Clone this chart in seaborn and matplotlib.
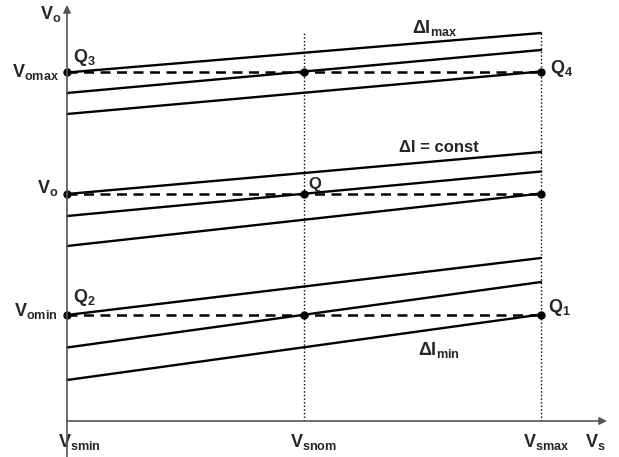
import numpy as np
import pandas as pd
import matplotlib
matplotlib.use("Agg")
import matplotlib.pyplot as plt
import seaborn as sns

# Supply-voltage operating points (Vs_min, Vs_nom, Vs_max)
vs_points = [0.0, 1.0, 2.0]
vs_labels = ["V_{smin}", "V_{snom}", "V_{smax}"]

# Output-voltage levels (arbitrary units)
vo_levels = {"Vomax": 349.0, "Vo": 227.5, "Vomin": 106.0}

# Output characteristics: value at Vs_min and at Vs_max for each curve
curve_names = ["max_1", "max_2", "max_3",
               "const_1", "const_2", "const_3",
               "min_1", "min_2", "min_3"]
vo_at_vsmin = [348.5, 328.0, 307.0, 227.0, 205.0, 175.0, 106.0, 73.5, 41.0]
vo_at_vsmax = [388.0, 371.0, 349.5, 269.0, 249.5, 227.5, 163.0, 139.0, 106.5]

sns.set_style("white")
plt.rcParams["font.family"] = ["Liberation Sans", "DejaVu Sans"]
plt.rcParams["font.weight"] = "bold"
plt.rcParams["mathtext.fontset"] = "custom"
plt.rcParams["mathtext.rm"] = "Liberation Sans:bold"

curves = pd.DataFrame({
    "curve": np.repeat(curve_names, 2),
    "Vs": np.tile([vs_points[0], vs_points[-1]], len(curve_names)),
    "Vo": np.ravel(np.column_stack([vo_at_vsmin, vo_at_vsmax])),
})

levels = pd.DataFrame({
    "level": np.repeat(list(vo_levels.keys()), 2),
    "Vs": np.tile([vs_points[0], vs_points[-1]], len(vo_levels)),
    "Vo": np.repeat(list(vo_levels.values()), 2),
})

points = pd.DataFrame([(vs, vo) for vo in vo_levels.values() for vs in vs_points],
                      columns=["Vs", "Vo"])

fig = plt.figure(figsize=(6.19, 4.57), dpi=100)
ax = fig.add_axes([0, 0, 1, 1])
px = 237.0  # pixels per unit of Vs
ax.set_xlim(-67 / px, (619 - 67) / px)
ax.set_ylim(-36, 421)
ax.axis("off")

# Dotted guides at Vs_nom and Vs_max
for vs in vs_points[1:]:
    ax.plot([vs, vs], [0, 389], color="black", lw=1.0, ls=(0, (1, 1.6)), zorder=1)

# Constant-output dashed levels
sns.lineplot(data=levels, x="Vs", y="Vo", units="level", estimator=None,
             color="black", lw=1.8, ax=ax, zorder=2,
             linestyle=(0, (4.0, 2.6)))

# Output characteristics
sns.lineplot(data=curves, x="Vs", y="Vo", units="curve", estimator=None,
             color="black", lw=1.7, ax=ax, zorder=3)

# Operating points
sns.scatterplot(data=points, x="Vs", y="Vo", color="black", s=36,
                edgecolor="black", linewidth=0, ax=ax, zorder=4)

# Coordinate axes with arrow heads
axis_col = "#555555"
arrow = dict(arrowstyle="-|>", color=axis_col, lw=1.2, mutation_scale=11,
             shrinkA=0, shrinkB=0, facecolor="black")
ax.annotate("", xy=(0, 416), xytext=(0, -36), arrowprops=arrow, zorder=5)
ax.annotate("", xy=(540 / px, 0), xytext=(0, 0), arrowprops=arrow, zorder=5)

fs = 13
def label(text, xy, off, ha="left", math=True, size=fs):
    s = r"$\mathregular{%s}$" % text if math else text
    ax.annotate(s, xy=xy, xytext=off, textcoords="offset pixels",
                ha=ha, va="baseline", fontsize=size, fontweight="bold")

# Axis names
label("V_o", (0, 416), (-27, -14))
label("V_s", (540 / px, 0), (-22, -26))

# Supply-voltage tick labels
for vs, txt, dx in zip(vs_points, vs_labels, [-9, -14, -18]):
    label(txt, (vs, 0), (dx, -26))

# Output-voltage tick labels
label("V_{omax}", (0, vo_levels["Vomax"]), (-8, -5), ha="right")
label("V_o", (0, vo_levels["Vo"]), (-9, 0), ha="right")
label("V_{omin}", (0, vo_levels["Vomin"]), (-9, -1), ha="right")

# Operating-point names
label("Q_3", (0, vo_levels["Vomax"]), (6, 10))
label("Q_4", (2, vo_levels["Vomax"]), (9, -1))
label("Q", (1, vo_levels["Vo"]), (4, 4), math=False, size=12)
label("Q_2", (0, vo_levels["Vomin"]), (6, 13))
label("Q_1", (2, vo_levels["Vomin"]), (7, 3))

# Curve-family names
label("ΔI_{max}", (1, vo_levels["Vo"]), (108, 161))
label("ΔI = const", (1, vo_levels["Vo"]), (95, 42), math=False, size=12)
label("ΔI_{min}", (1, vo_levels["Vomin"]), (114, -40))

fig.savefig("out.png", dpi=100)
